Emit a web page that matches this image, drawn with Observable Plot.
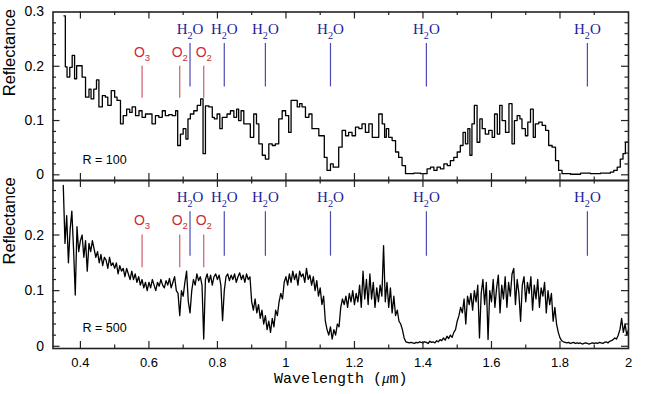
<!DOCTYPE html>
<html><head><meta charset="utf-8">
<script src="https://cdn.jsdelivr.net/npm/d3@7"></script>
<script src="https://cdn.jsdelivr.net/npm/@observablehq/plot@0.6"></script>
<style>
body{margin:0;background:#fff;}
#chart{position:relative;width:650px;height:394px;background:#fff;}
#chart svg{position:absolute;top:0;left:0;background:none !important;}
</style></head><body><div id="chart"></div>
<script>
// R = 100 spectrum (bin start wavelength, reflectance)
const lam100 = [0.352,0.356,0.361,0.369,0.376,0.383,0.389,0.405,0.415,0.425,0.431,0.439,0.447,0.454,0.464,0.473,0.480,0.490,0.500,0.507,0.517,0.525,0.535,0.544,0.551,0.561,0.571,0.580,0.590,0.609,0.619,0.629,0.639,0.648,0.658,0.668,0.678,0.684,0.692,0.700,0.708,0.714,0.721,0.731,0.741,0.751,0.758,0.765,0.775,0.785,0.791,0.799,0.807,0.814,0.828,0.838,0.848,0.856,0.862,0.869,0.877,0.896,0.906,0.914,0.921,0.931,0.940,0.950,0.960,0.969,0.979,0.989,0.999,1.008,1.015,1.033,1.040,1.047,1.057,1.067,1.076,1.096,1.112,1.120,1.130,1.138,1.154,1.164,1.174,1.183,1.193,1.203,1.213,1.222,1.232,1.242,1.252,1.271,1.281,1.288,1.293,1.300,1.310,1.320,1.329,1.339,1.349,1.373,1.393,1.412,1.422,1.432,1.441,1.451,1.461,1.471,1.480,1.490,1.500,1.509,1.517,1.524,1.531,1.537,1.543,1.550,1.558,1.566,1.573,1.582,1.592,1.602,1.609,1.617,1.624,1.631,1.641,1.651,1.660,1.667,1.675,1.683,1.689,1.699,1.706,1.714,1.722,1.728,1.738,1.748,1.758,1.767,1.777,1.787,1.796,1.806,1.831,1.860,1.889,1.918,1.947,1.957,1.967,1.976,1.984,1.991,2.000];
const refl100 = [0.293,0.199,0.180,0.198,0.220,0.177,0.201,0.180,0.143,0.158,0.140,0.158,0.175,0.125,0.146,0.143,0.128,0.155,0.143,0.137,0.094,0.109,0.121,0.115,0.125,0.109,0.118,0.106,0.112,0.094,0.109,0.106,0.118,0.109,0.111,0.109,0.118,0.054,0.075,0.085,0.066,0.103,0.112,0.118,0.128,0.140,0.039,0.127,0.125,0.106,0.103,0.112,0.085,0.106,0.112,0.118,0.106,0.121,0.100,0.118,0.094,0.069,0.112,0.094,0.057,0.036,0.029,0.057,0.054,0.057,0.103,0.118,0.109,0.078,0.137,0.125,0.131,0.125,0.106,0.112,0.085,0.072,0.032,0.008,0.020,0.014,0.051,0.082,0.072,0.078,0.072,0.088,0.085,0.094,0.078,0.094,0.069,0.112,0.094,0.069,0.085,0.069,0.063,0.042,0.032,0.017,0.002,0.003,0.002,0.011,0.014,0.008,0.014,0.011,0.020,0.017,0.026,0.032,0.042,0.054,0.078,0.057,0.085,0.036,0.094,0.128,0.060,0.103,0.085,0.075,0.082,0.069,0.112,0.075,0.128,0.100,0.078,0.131,0.057,0.100,0.109,0.103,0.085,0.072,0.097,0.121,0.069,0.094,0.097,0.091,0.082,0.054,0.051,0.026,0.008,0.002,0.001,0.003,0.002,0.003,0.005,0.008,0.014,0.029,0.039,0.060,0.060];

// R = 500 spectrum, sampled every 0.005 um from 0.350 um
const lam500Start = 0.35, lam500Step = 0.005;
const refl500 = [
0.289,0.185,0.235,0.15,0.21,0.243,0.175,0.092,0.215,0.17,
0.19,0.2,0.16,0.19,0.135,0.185,0.17,0.19,0.175,0.16,
0.17,0.15,0.165,0.145,0.16,0.155,0.14,0.16,0.145,0.15,
0.14,0.15,0.13,0.145,0.135,0.14,0.125,0.14,0.13,0.12,
0.135,0.12,0.13,0.115,0.125,0.11,0.12,0.105,0.115,0.1,
0.115,0.105,0.12,0.11,0.1,0.115,0.108,0.12,0.11,0.105,
0.118,0.11,0.122,0.105,0.115,0.125,0.1,0.095,0.055,0.1,
0.09,0.115,0.135,0.08,0.06,0.1,0.12,0.11,0.13,0.118,
0.125,0.11,0.013,0.12,0.13,0.115,0.128,0.11,0.125,0.13,
0.12,0.128,0.11,0.046,0.1,0.125,0.13,0.118,0.128,0.12,
0.13,0.115,0.125,0.132,0.12,0.128,0.115,0.13,0.12,0.125,
0.08,0.065,0.085,0.06,0.075,0.05,0.065,0.04,0.055,0.03,
0.045,0.025,0.05,0.035,0.065,0.055,0.08,0.095,0.085,0.115,
0.125,0.11,0.13,0.115,0.135,0.12,0.13,0.11,0.135,0.125,
0.13,0.115,0.14,0.12,0.128,0.11,0.125,0.1,0.118,0.09,
0.105,0.075,0.09,0.045,0.03,0.02,0.035,0.013,0.03,0.02,
0.04,0.035,0.07,0.085,0.075,0.09,0.07,0.095,0.08,0.1,
0.075,0.095,0.08,0.11,0.07,0.135,0.085,0.12,0.075,0.13,
0.085,0.115,0.07,0.105,0.08,0.11,0.09,0.181,0.08,0.115,
0.07,0.105,0.06,0.09,0.055,0.065,0.045,0.04,0.03,0.015,
0.008,0.007,0.006,0.007,0.006,0.005,0.007,0.006,0.008,0.007,
0.006,0.008,0.007,0.005,0.009,0.007,0.008,0.006,0.01,0.008,
0.012,0.01,0.015,0.011,0.018,0.014,0.02,0.016,0.025,0.03,
0.045,0.055,0.07,0.06,0.085,0.04,0.09,0.075,0.095,0.065,
0.1,0.08,0.11,0.015,0.095,0.12,0.075,0.115,0.012,0.1,
0.08,0.12,0.07,0.105,0.128,0.06,0.11,0.085,0.125,0.07,
0.115,0.09,0.13,0.14,0.075,0.12,0.095,0.045,0.11,0.125,
0.08,0.115,0.095,0.125,0.065,0.11,0.085,0.12,0.07,0.105,
0.09,0.115,0.06,0.1,0.075,0.095,0.045,0.07,0.04,0.025,
0.015,0.01,0.008,0.007,0.006,0.007,0.005,0.006,0.007,0.005,
0.006,0.005,0.006,0.004,0.005,0.006,0.005,0.004,0.005,0.006,
0.005,0.006,0.005,0.007,0.006,0.005,0.007,0.008,0.006,0.009,
0.01,0.012,0.015,0.013,0.02,0.03,0.05,0.025,0.04,0.02,
0.03];

// Absorption features
const oxLabels = ["O3","O2","O2"];
const oxLam = [0.58,0.69,0.76];
const h2oLabels = ["H2O","H2O","H2O","H2O","H2O","H2O"];
const h2oLam = [0.72,0.82,0.94,1.13,1.41,1.88];

// Ticks
const xTickLabels = [0.4,0.6,0.8,1,1.2,1.4,1.6,1.8,2];
const xMajor = [0.4,0.6,0.8,1,1.2,1.4,1.6,1.8];
const xMinor = [0.5,0.7,0.9,1.1,1.3,1.5,1.7,1.9];
const yMajor = [0,0.1,0.2];
const yMinor = [0.02,0.04,0.06,0.08,0.12,0.14,0.16,0.18,0.22,0.24,0.26,0.28];
const yLabelsTop = [0,0.1,0.2,0.3];
const yLabelsBottom = [0,0.1,0.2];
const panelNames = ["R = 100","R = 500"];

const top100 = lam100.map((l,i)=>({lam:l, r:refl100[i]}));
const bot500 = refl500.map((r,i)=>({lam:+(lam500Start + i*lam500Step).toFixed(3), r}));

const W = 650, H = 394, ML = 52.5, MR = 22;
const SANS = "'Liberation Sans', Arial, Helvetica, sans-serif";
const SERIF = "'Liberation Serif', 'Times New Roman', serif";
const MONO = "'Liberation Mono', 'Courier New', monospace";
const RED = "#cc2a3a", RED_LINE = "#d25a68", BLUE = "#22229a", BLUE_LINE = "#4a4ab4";

function panel({data, curve, top, bottom, yDomain, yLabels, name, nameY, xAxis, lineW}) {
  const innerH = bottom - top, innerW = W - ML - MR;
  const tick = "#222";
  const marks = [
    Plot.line(data, {x:"lam", y:"r", curve, stroke:"#000", strokeWidth: lineW}),
    Plot.ruleX(xMajor, {x:d=>d, insetTop: innerH-7, stroke:tick, strokeWidth:1.2}),
    Plot.ruleX(xMinor, {x:d=>d, insetTop: innerH-3.5, stroke:tick, strokeWidth:1.2}),
    Plot.ruleX(xMajor, {x:d=>d, insetBottom: innerH-7, stroke:tick, strokeWidth:1.2}),
    Plot.ruleX(xMinor, {x:d=>d, insetBottom: innerH-3.5, stroke:tick, strokeWidth:1.2}),
    Plot.ruleY(yMajor, {y:d=>d, insetRight: innerW-7, stroke:tick, strokeWidth:1.2}),
    Plot.ruleY(yMinor, {y:d=>d, insetRight: innerW-3.5, stroke:tick, strokeWidth:1.2}),
    Plot.ruleY(yMajor, {y:d=>d, insetLeft: innerW-7, stroke:tick, strokeWidth:1.2}),
    Plot.ruleY(yMinor, {y:d=>d, insetLeft: innerW-3.5, stroke:tick, strokeWidth:1.2}),
    Plot.frame({stroke:"#222", strokeWidth:1.6}),
    Plot.text(yLabels, {y:d=>d, frameAnchor:"left", dx:-9, textAnchor:"end", text:d=>String(d), fontSize:14, fontFamily:SANS, fill:"#000"}),
    Plot.text(["Reflectance"], {frameAnchor:"left", dx:-43.5, rotate:-90, fontSize:16.5, fontFamily:SANS, fill:"#000"}),
    Plot.ruleX(oxLam, {x:d=>d, y1:0.141, y2:0.2, stroke:RED_LINE, strokeWidth:1.2}),
    Plot.ruleX(h2oLam, {x:d=>d, y1:0.162, y2:0.242, stroke:BLUE_LINE, strokeWidth:1.2}),
    Plot.text(oxLam, {x:d=>d, y:0.226, text:(d,i)=>oxLabels[i], fill:RED, fontSize:14, fontFamily:SANS}),
    Plot.text(h2oLam, {x:d=>d, y:0.268, text:(d,i)=>h2oLabels[i], fill:BLUE, fontSize:15, fontFamily:SERIF}),
    Plot.text([name], {x:0.406, y:nameY, textAnchor:"start", fontSize:12.5, fontFamily:SANS, fill:"#000"})
  ];
  if (xAxis) {
    marks.push(Plot.text(xTickLabels, {x:d=>d, frameAnchor:"bottom", dy:18, text:d=>String(d), fontSize:13, fontFamily:SANS, fill:"#000"}));
    marks.push(Plot.text(["Wavelength (\u03bcm)"], {frameAnchor:"bottom", dy:34, fontSize:15, fontFamily:MONO, fill:"#000"}));
  }
  return Plot.plot({
    width: W, height: H,
    marginLeft: ML, marginRight: MR, marginTop: top, marginBottom: H - bottom,
    x: {domain:[0.32, 2.0], axis:null},
    y: {domain: yDomain, axis:null},
    style: {background:"none", overflow:"visible"},
    marks
  });
}

function subscriptify(svg) {
  d3.select(svg).selectAll("text").each(function() {
    const s = this.textContent;
    const sel = d3.select(this);
    if (s === "Wavelength (\u03bcm)") {
      sel.text(null);
      sel.append("tspan").text("Wavelength (");
      sel.append("tspan").attr("font-style","italic").attr("font-family", SERIF).text("\u03bc");
      sel.append("tspan").text("m)");
      return;
    }
    if (!/^(H2O|O2|O3)$/.test(s)) return;
    const fs = parseFloat(getComputedStyle(this).fontSize) || 14;
    const shift = Math.round(fs * 0.3);
    sel.text(null);
    let down = false;
    for (const ch of s) {
      const dig = /\d/.test(ch);
      const ts = sel.append("tspan").text(ch);
      if (dig && !down) { ts.attr("dy", shift).attr("font-size", (fs*0.68).toFixed(1)); down = true; }
      else if (!dig && down) { ts.attr("dy", -shift); down = false; }
    }
  });
}

const chart = document.getElementById("chart");
const p1 = panel({data: top100, curve:"step-after", top:11.5, bottom:180, yDomain:[-0.0105, 0.3], yLabels:yLabelsTop, name:panelNames[0], nameY:0.027, xAxis:false, lineW:1.3});
const p2 = panel({data: bot500, curve:"linear", top:180, bottom:348, yDomain:[-0.004, 0.298], yLabels:yLabelsBottom, name:panelNames[1], nameY:0.032, xAxis:true, lineW:1.3});
chart.appendChild(p1);
chart.appendChild(p2);
subscriptify(p1);
subscriptify(p2);
</script></body></html>
